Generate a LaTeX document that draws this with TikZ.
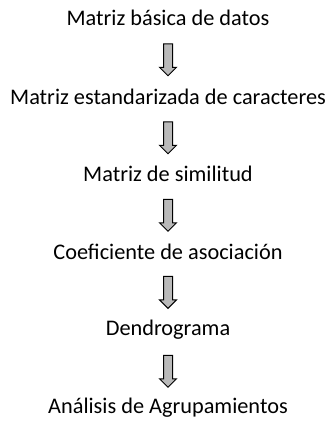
\documentclass[tikz,border=0pt]{standalone}
\usepackage{fontspec}
\setmainfont{Carlito}
\usetikzlibrary{shapes.arrows}

\begin{document}
\begin{tikzpicture}[x=1pt, y=1pt, font=\fontsize{22.3}{26}\selectfont,
        flecha/.style={single arrow, shape border rotate=270, draw=black, fill=black!27,
            line width=1pt, minimum height=32pt, minimum width=0pt,
            single arrow head extend=4pt, inner sep=0pt}]
        \useasboundingbox (0,0) rectangle (328,-421);
        \node (m1) at (168,-18) {Matriz básica de datos};
        \node (m2) at (168,-97) {Matriz estandarizada de caracteres};
        \node (m3) at (168,-174) {Matriz de similitud};
        \node (m4) at (168,-252) {Coeficiente de asociación};
        \node (m5) at (168,-330) {Dendrograma};
        \node (m6) at (168,-408) {Análisis de Agrupamientos};
        \foreach \a/\b in {m1/m2,m2/m3,m3/m4,m4/m5,m5/m6} \path (\a) -- (\b) node[midway, flecha] {\rule{8pt}{0pt}};
    \end{tikzpicture}
\end{document}
